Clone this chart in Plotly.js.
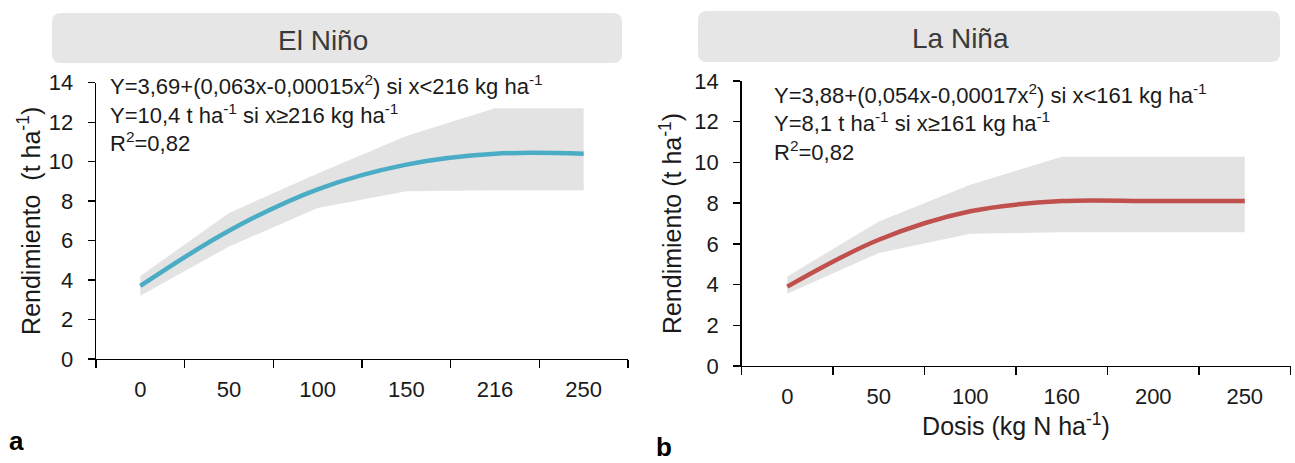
<!DOCTYPE html>
<html>
<head>
<meta charset="utf-8">
<script src="https://cdn.plot.ly/plotly-3.0.1.min.js"></script>
<style>html,body{margin:0;padding:0;background:#fff;}#chart{width:1295px;height:463px;}</style>
</head>
<body>
<div id="chart"></div>
<script>
// ---- data ----
const dosisNino = ["0", "50", "100", "150", "216", "250"];
const rendNino = [3.7, 6.5, 8.6, 9.85, 10.4, 10.4];
const upperNino = [4.2, 7.4, 9.4, 11.3, 12.7, 12.7];
const lowerNino = [3.2, 5.7, 7.65, 8.5, 8.55, 8.55];

const dosisNina = ["0", "50", "100", "160", "200", "250"];
const rendNina = [3.9, 6.2, 7.6, 8.1, 8.1, 8.1];
const upperNina = [4.4, 7.1, 8.9, 10.28, 10.28, 10.28];
const lowerNina = [3.55, 5.55, 6.5, 6.57, 6.57, 6.57];

const yTicks = [0, 2, 4, 6, 8, 10, 12, 14];

const FONT = "Liberation Sans, Arial, sans-serif";
const W = 1295, H = 463;
const px = v => v / W;
const py = v => 1 - v / H;

function band(xs, up, lo, xa, ya) {
  return {
    x: xs.concat(xs.slice().reverse()),
    y: up.concat(lo.slice().reverse()),
    xaxis: xa, yaxis: ya,
    type: "scatter", mode: "lines", fill: "toself",
    fillcolor: "#e3e3e3", line: {width: 0, color: "rgba(0,0,0,0)"},
    hoverinfo: "skip", showlegend: false
  };
}
function curve(xs, ys, color, xa, ya) {
  return {
    x: xs, y: ys, xaxis: xa, yaxis: ya,
    type: "scatter", mode: "lines",
    line: {color: color, width: 4.5, shape: "spline", smoothing: 1},
    showlegend: false
  };
}

const data = [
  band(dosisNino, upperNino, lowerNino, "x", "y"),
  curve(dosisNino, rendNino, "#4bacc6", "x", "y"),
  band(dosisNina, upperNina, lowerNina, "x2", "y2"),
  curve(dosisNina, rendNina, "#c0504d", "x2", "y2")
];

function xax(domain, title) {
  return {
    domain: domain, type: "category", range: [-0.5, 5.5],
    tickson: "boundaries", ticks: "outside", ticklen: 8, tickwidth: 1.3, tickcolor: "#000",
    showline: true, linecolor: "#000", linewidth: 1.3,
    showgrid: false, zeroline: false, fixedrange: true,
    tickfont: {family: FONT, size: 22, color: "#1a1a1a"},
    ticklabelstandoff: 10,
    automargin: false,
    title: title ? {text: title, font: {family: FONT, size: 25, color: "#1a1a1a"}, standoff: 6} : {text: ""}
  };
}
function yax(domain, anchor, title, standoff) {
  return {
    domain: domain, anchor: anchor, range: [0, 14],
    tickvals: yTicks, ticktext: yTicks.map(String),
    ticks: "outside", ticklen: 7, tickwidth: 1.3, tickcolor: "#000",
    showline: true, linecolor: "#000", linewidth: 1.3,
    showgrid: false, zeroline: false, fixedrange: true,
    tickfont: {family: FONT, size: 22, color: "#1a1a1a"},
    ticklabelstandoff: 10,
    automargin: false,
    title: {text: title, font: {family: FONT, size: 25, color: "#1a1a1a"}, standoff: standoff}
  };
}

function roundRect(x0, y0, x1, y1, r) {
  const rx = r / W, ry = r / H;
  const X0 = px(x0), X1 = px(x1), Yt = py(y0), Yb = py(y1);
  return `M ${X0 + rx},${Yt} L ${X1 - rx},${Yt} Q ${X1},${Yt} ${X1},${Yt - ry} ` +
         `L ${X1},${Yb + ry} Q ${X1},${Yb} ${X1 - rx},${Yb} L ${X0 + rx},${Yb} ` +
         `Q ${X0},${Yb} ${X0},${Yb + ry} L ${X0},${Yt - ry} Q ${X0},${Yt} ${X0 + rx},${Yt} Z`;
}

function ann(text, x, y, opts) {
  return Object.assign({
    text: text, xref: "paper", yref: "paper", x: px(x), y: py(y),
    xanchor: "left", yanchor: "middle", showarrow: false,
    font: {family: FONT, size: 22, color: "#1a1a1a"}
  }, opts || {});
}

const layout = {
  width: W, height: H,
  margin: {l: 0, r: 0, t: 0, b: 0},
  paper_bgcolor: "#fff", plot_bgcolor: "rgba(0,0,0,0)",
  showlegend: false,
  xaxis: xax([px(96), px(628)], ""),
  yaxis: yax([py(359), py(82.7)], "x", "Rendimiento  (t ha<sup>-1</sup>)", 1),
  xaxis2: Object.assign(xax([px(741.5), px(1290.5)], "Dosis (kg N ha<sup>-1</sup>)"), {anchor: "y2"}),
  yaxis2: yax([py(366), py(81)], "x2", "Rendimiento (t ha<sup>-1</sup>)", 5),
  shapes: [
    {type: "path", xref: "paper", yref: "paper", path: roundRect(52, 13, 622, 63, 9),
     fillcolor: "#e6e6e6", line: {width: 0}, layer: "below"},
    {type: "path", xref: "paper", yref: "paper", path: roundRect(698, 11, 1280, 62, 9),
     fillcolor: "#e6e6e6", line: {width: 0}, layer: "below"}
  ],
  annotations: [
    ann("El Niño", 323, 41, {xanchor: "center", font: {family: FONT, size: 28, color: "#3a3a3a"}}),
    ann("La Niña", 960, 39, {xanchor: "center", font: {family: FONT, size: 28, color: "#3a3a3a"}}),
    ann("Y=3,69+(0,063x-0,00015x<sup>2</sup>) si x&lt;216 kg ha<sup>-1</sup>", 108, 85),
    ann("Y=10,4 t ha<sup>-1</sup> si x≥216 kg ha<sup>-1</sup>", 108, 114),
    ann("R<sup>2</sup>=0,82", 108, 142),
    ann("Y=3,88+(0,054x-0,00017x<sup>2</sup>) si x&lt;161 kg ha<sup>-1</sup>", 772, 94),
    ann("Y=8,1 t ha<sup>-1</sup> si x≥161 kg ha<sup>-1</sup>", 772, 122),
    ann("R<sup>2</sup>=0,82", 772, 151),
    ann("<b>a</b>", 7, 441, {font: {family: FONT, size: 26, color: "#000"}}),
    ann("<b>b</b>", 654, 447, {font: {family: FONT, size: 26, color: "#000"}})
  ]
};

Plotly.newPlot("chart", data, layout, {displayModeBar: false, staticPlot: true});
</script>
</body>
</html>
